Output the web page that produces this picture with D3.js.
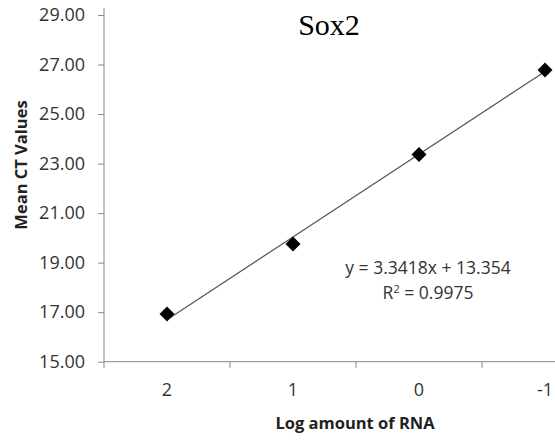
<!DOCTYPE html>
<html>
<head>
<meta charset="utf-8">
<script src="https://cdn.jsdelivr.net/npm/d3@7"></script>
<style>
  body { margin: 0; background: #fff; }
  svg { display: block; }
  .tick text { font-family: "Open Sans", sans-serif; font-size: 18px; fill: #333; }
  .axis-title { font-family: "Open Sans", sans-serif; font-size: 16.5px; font-weight: bold; fill: #222; }
  .eq { font-family: "Open Sans", sans-serif; font-size: 17.5px; fill: #333; }
</style>
</head>
<body>
<svg width="555" height="440"></svg>
<script>
const categories = ["2", "1", "0", "-1"];
const ctValues = [16.93, 19.75, 23.37, 26.78];
const yTicks = [15, 17, 19, 21, 23, 25, 27, 29];
const trend = { slope: 3.3418, intercept: 13.354, r2: 0.9975 };

const svg = d3.select("svg");

const x = d3.scaleBand()
  .domain(categories)
  .range([104, 608]);

const y = d3.scaleLinear()
  .domain([15, 29])
  .range([361.7, 15]);

// y axis
const yAxis = svg.append("g")
  .attr("transform", "translate(104,0)")
  .call(d3.axisLeft(y).tickValues(yTicks).tickFormat(d3.format(".2f")).tickSize(6).tickPadding(13));
yAxis.select(".domain").remove();
yAxis.selectAll("line").attr("stroke", "#888");
svg.append("line")
  .attr("x1", 104).attr("x2", 104)
  .attr("y1", 8).attr("y2", 362)
  .attr("stroke", "#888");

// x axis
const xAxis = svg.append("g")
  .attr("transform", "translate(0,362)")
  .call(d3.axisBottom(x).tickSize(0).tickPadding(28));
xAxis.select(".domain").remove();
xAxis.selectAll("text").attr("dy", "0.32em");
svg.append("line")
  .attr("x1", 104).attr("x2", 555)
  .attr("y1", 361.7).attr("y2", 361.7)
  .attr("stroke", "#888");
svg.selectAll(".xtick")
  .data(categories)
  .enter()
  .append("line")
  .attr("class", "xtick")
  .attr("x1", d => x(d)).attr("x2", d => x(d))
  .attr("y1", 362).attr("y2", 368)
  .attr("stroke", "#888");

// trendline (Excel uses 1..n for category x)
const idx = i => x(categories[i]) + x.bandwidth() / 2;
svg.append("line")
  .attr("x1", idx(0))
  .attr("y1", y(trend.slope * 1 + trend.intercept))
  .attr("x2", idx(categories.length - 1))
  .attr("y2", y(trend.slope * categories.length + trend.intercept))
  .attr("stroke", "#555")
  .attr("stroke-width", 1.2);

// markers
svg.selectAll(".pt")
  .data(ctValues)
  .enter()
  .append("path")
  .attr("class", "pt")
  .attr("transform", (d, i) => `translate(${idx(i)},${y(d)})`)
  .attr("d", "M0,-7.5L7.5,0L0,7.5L-7.5,0Z")
  .attr("fill", "#000");

// titles
svg.append("text")
  .attr("x", 329).attr("y", 35)
  .attr("text-anchor", "middle")
  .style("font-family", "'Liberation Serif', 'Times New Roman', serif")
  .style("font-size", "30px")
  .text("Sox2");

svg.append("text")
  .attr("class", "axis-title")
  .attr("transform", "translate(27,165) rotate(-90)")
  .attr("text-anchor", "middle")
  .text("Mean CT Values");

svg.append("text")
  .attr("class", "axis-title")
  .attr("x", 355).attr("y", 429)
  .attr("text-anchor", "middle")
  .text("Log amount of RNA");

// equation
svg.append("text")
  .attr("class", "eq")
  .attr("x", 428).attr("y", 274)
  .attr("text-anchor", "middle")
  .text(`y = ${trend.slope}x + ${trend.intercept}`);

const r2 = svg.append("text")
  .attr("class", "eq")
  .attr("x", 428).attr("y", 299)
  .attr("text-anchor", "middle");
r2.append("tspan").text("R");
r2.append("tspan").attr("dy", -6).style("font-size", "11px").text("2");
r2.append("tspan").attr("dy", 6).text(` = ${trend.r2}`);
</script>
</body>
</html>
